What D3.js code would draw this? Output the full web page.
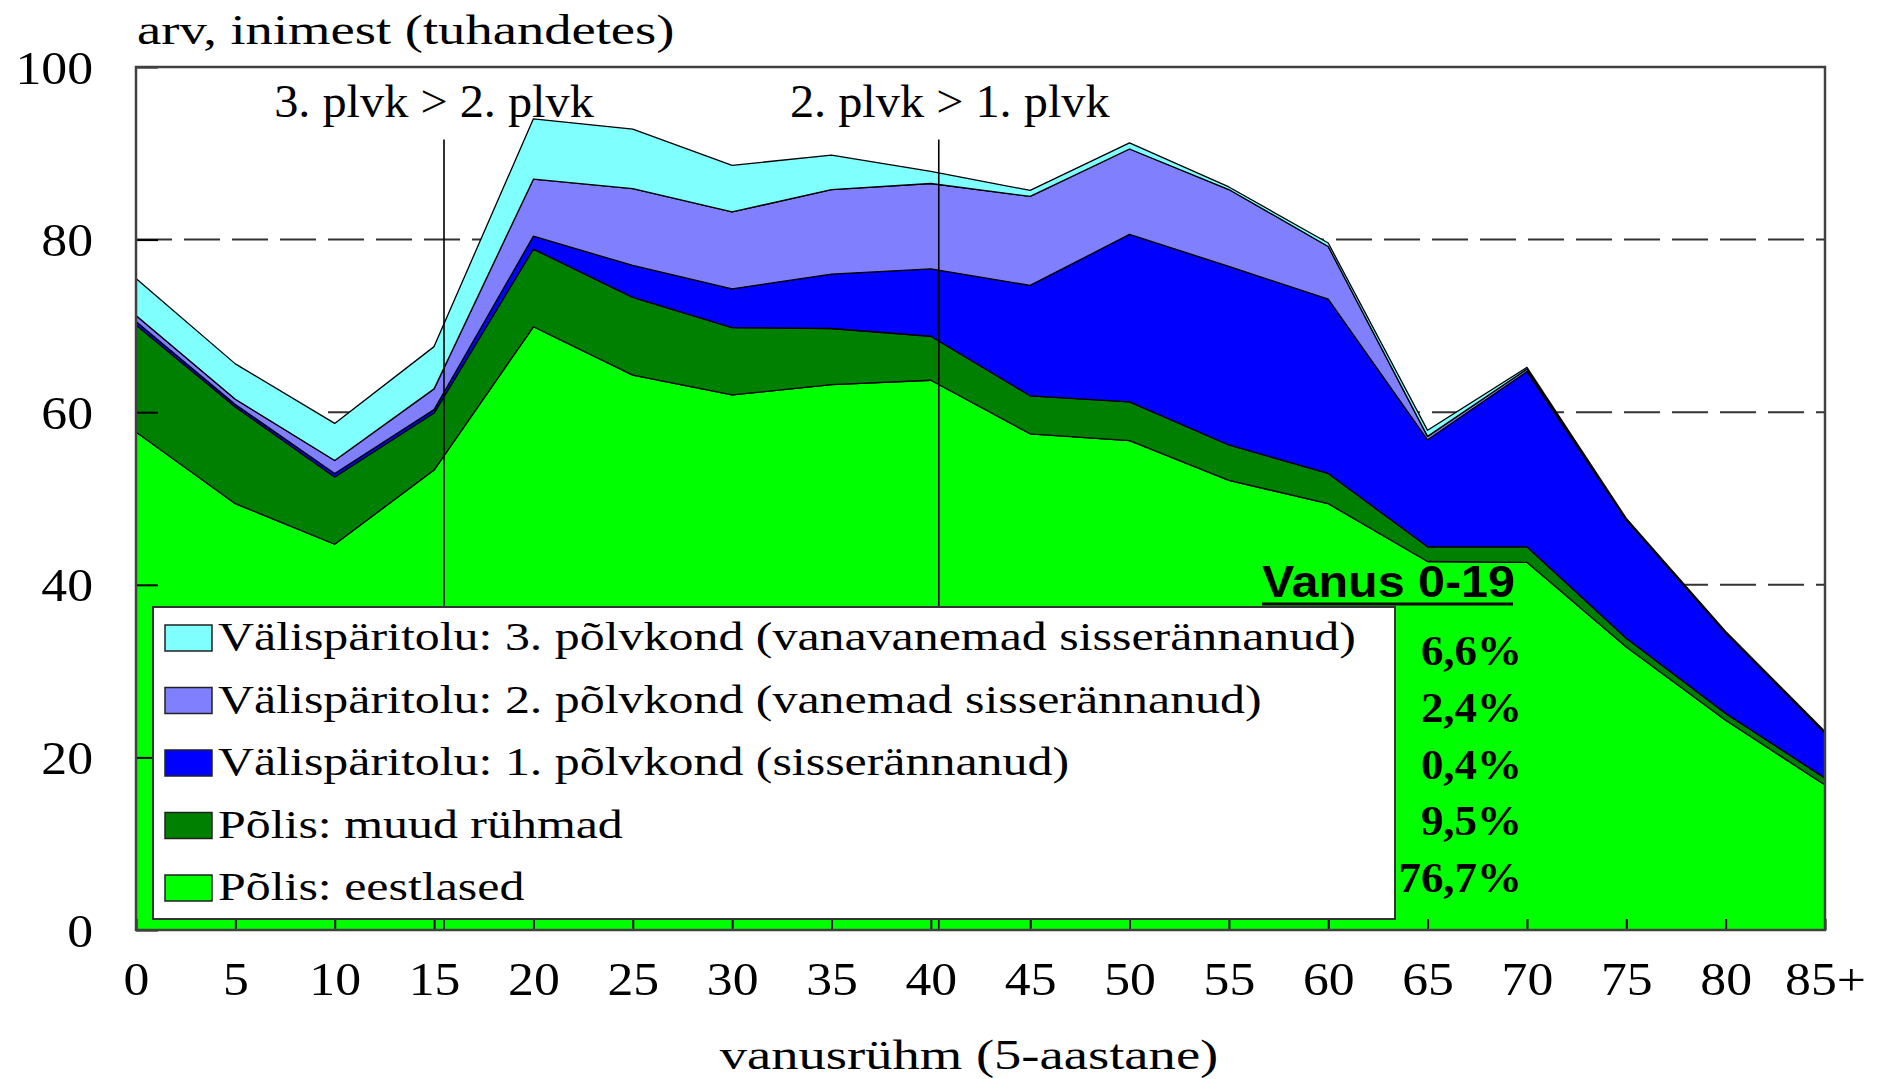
<!DOCTYPE html>
<html>
<head>
<meta charset="utf-8">
<script src="https://cdn.jsdelivr.net/npm/d3@7"></script>
<style>
  html, body { margin: 0; padding: 0; background: #fff; }
  svg { display: block; }
</style>
</head>
<body>
<script>
// Constants
const WIDTH = 1878;
const HEIGHT = 1079;
const PLOT = { left: 136, right: 1825, top: 67, bottom: 930 };
const SERIF = "'Liberation Serif', 'Times New Roman', serif";
const SANS = "'Liberation Sans', Arial, sans-serif";
const TICK_STRETCH = 1.1;

// Data (thousands of people per 5-year age group)
const ages = [0, 5, 10, 15, 20, 25, 30, 35, 40, 45, 50, 55, 60, 65, 70, 75, 80, 85];
const ageLabels = ['0', '5', '10', '15', '20', '25', '30', '35', '40', '45', '50', '55', '60', '65', '70', '75', '80', '85+'];
const eestlased = [57.7, 49.4, 44.7, 53.3, 69.9, 64.3, 62.0, 63.2, 63.7, 57.5, 56.7, 52.1, 49.4, 42.7, 42.6, 32.8, 24.3, 16.8];
const muudRuhmad = [12.4, 11.2, 7.8, 6.6, 9.0, 9.0, 7.8, 6.5, 5.1, 4.4, 4.5, 4.1, 3.5, 1.7, 1.8, 1.0, 0.8, 0.8];
const polvkond1 = [0.4, 0.3, 0.4, 0.4, 1.5, 3.7, 4.5, 6.3, 7.8, 12.8, 19.4, 20.7, 20.2, 12.4, 20.3, 13.7, 9.3, 5.2];
const polvkond2 = [0.7, 0.6, 1.5, 2.4, 6.6, 8.9, 8.9, 9.8, 9.9, 10.3, 9.9, 8.9, 6.1, 0.4, 0.3, 0.1, 0.1, 0.1];
const polvkond3 = [4.3, 4.1, 4.3, 4.9, 7.0, 6.9, 5.4, 4.0, 1.4, 0.7, 0.7, 0.3, 0.4, 0.7, 0.2, 0.1, 0.1, 0.1];

const seriesKeys = ['eestlased', 'muud', 'p1', 'p2', 'p3'];
const seriesNames = [
  'Põlis: eestlased',
  'Põlis: muud rühmad',
  'Välispäritolu: 1. põlvkond (sisserännanud)',
  'Välispäritolu: 2. põlvkond (vanemad sisserännanud)',
  'Välispäritolu: 3. põlvkond (vanavanemad sisserännanud)',
];
const seriesColors = ['#00ff00', '#008000', '#0000ff', '#8080ff', '#80ffff'];
// shares for ages 0-19, same order as the legend (top to bottom)
const youthShares = ['6,6%', '2,4%', '0,4%', '9,5%', '76,7%'];

const yTicks = [0, 20, 40, 60, 80, 100];
const gridValues = [20, 40, 60, 80];
const markerAges = [15.5, 40.4];
const markerTop = 91.6;
const markerLabels = ['3. plvk > 2. plvk', '2. plvk > 1. plvk'];
const markerLabelShift = [-10, 11];

// Prepare data
const rows = ages.map((age, i) => ({
  age,
  eestlased: eestlased[i],
  muud: muudRuhmad[i],
  p1: polvkond1[i],
  p2: polvkond2[i],
  p3: polvkond3[i],
}));
const stacked = d3.stack().keys(seriesKeys)(rows);

// Scales
const xScale = d3.scaleLinear([0, 85], [PLOT.left, PLOT.right]);
const yScale = d3.scaleLinear([0, 100], [PLOT.bottom, PLOT.top]);

const svg = d3.select('body')
  .append('svg')
  .attr('width', WIDTH)
  .attr('height', HEIGHT);

svg.append('rect')
  .attr('width', WIDTH)
  .attr('height', HEIGHT)
  .attr('fill', '#fff');

// Dashed grid lines
svg.append('g')
  .selectAll('line')
  .data(gridValues)
  .join('line')
  .attr('x1', PLOT.left)
  .attr('x2', PLOT.right)
  .attr('y1', (d) => yScale(d))
  .attr('y2', (d) => yScale(d))
  .attr('stroke', '#333')
  .attr('stroke-width', 2)
  .attr('stroke-dasharray', '36,12');

// Stacked areas
const area = d3.area()
  .x((d) => xScale(d.data.age))
  .y0((d) => yScale(d[0]))
  .y1((d) => yScale(d[1]));

svg.append('g')
  .selectAll('path')
  .data(stacked)
  .join('path')
  .attr('d', area)
  .attr('fill', (d, i) => seriesColors[i])
  .attr('stroke', '#000')
  .attr('stroke-width', 1.3)
  .attr('stroke-linejoin', 'round');

// Generation boundary markers
svg.append('g')
  .selectAll('line')
  .data(markerAges)
  .join('line')
  .attr('x1', (d) => xScale(d))
  .attr('x2', (d) => xScale(d))
  .attr('y1', yScale(markerTop))
  .attr('y2', yScale(0))
  .attr('stroke', '#000')
  .attr('stroke-width', 1.6);

svg.append('g')
  .selectAll('text')
  .data(markerLabels)
  .join('text')
  .attr('transform', (d, i) =>
    `translate(${xScale(markerAges[i]) + markerLabelShift[i]},117) scale(1.05,1)`)
  .attr('text-anchor', 'middle')
  .attr('font-family', SERIF)
  .attr('font-size', 46)
  .attr('fill', '#000')
  .text((d) => d);

// Axes
const yAxis = d3.axisLeft(yScale)
  .tickValues(yTicks)
  .tickSizeInner(-22)
  .tickSizeOuter(0)
  .tickPadding(43);

const yAxisG = svg.append('g')
  .attr('transform', `translate(${PLOT.left},0)`)
  .call(yAxis);
yAxisG.select('.domain').remove();
yAxisG.selectAll('line').attr('stroke', '#000').attr('stroke-width', 2);
yAxisG.selectAll('text')
  .attr('x', -43 / TICK_STRETCH)
  .attr('dy', 16)
  .attr('transform', `scale(${TICK_STRETCH},1)`)
  .attr('font-family', SERIF)
  .attr('font-size', 47)
  .attr('fill', '#000');

const xAxis = d3.axisBottom(xScale)
  .tickValues(ages)
  .tickFormat((d, i) => ageLabels[i])
  .tickSizeInner(-11)
  .tickSizeOuter(0);

const xAxisG = svg.append('g')
  .attr('transform', `translate(0,${PLOT.bottom})`)
  .call(xAxis);
xAxisG.select('.domain').remove();
xAxisG.selectAll('line').attr('stroke', '#000').attr('stroke-width', 2);
xAxisG.selectAll('text')
  .attr('y', 65)
  .attr('dy', 0)
  .attr('transform', `scale(${TICK_STRETCH},1)`)
  .attr('font-family', SERIF)
  .attr('font-size', 47)
  .attr('fill', '#000');

// Plot frame
svg.append('rect')
  .attr('x', PLOT.left)
  .attr('y', PLOT.top)
  .attr('width', PLOT.right - PLOT.left)
  .attr('height', PLOT.bottom - PLOT.top)
  .attr('fill', 'none')
  .attr('stroke', '#404040')
  .attr('stroke-width', 2.5);

// Axis titles
svg.append('text')
  .attr('transform', 'translate(137,44) scale(1.3,1)')
  .attr('font-family', SERIF)
  .attr('font-size', 42)
  .attr('fill', '#000')
  .text('arv, inimest (tuhandetes)');

svg.append('text')
  .attr('transform', 'translate(969,1069) scale(1.3,1)')
  .attr('text-anchor', 'middle')
  .attr('font-family', SERIF)
  .attr('font-size', 42)
  .attr('fill', '#000')
  .text('vanusrühm (5-aastane)');

// Legend
const legend = svg.append('g');
legend.append('rect')
  .attr('x', 153)
  .attr('y', 607)
  .attr('width', 1242)
  .attr('height', 312)
  .attr('fill', '#fff')
  .attr('stroke', '#333')
  .attr('stroke-width', 2);

const legendOrder = d3.range(seriesKeys.length).reverse();
const items = legend.selectAll('g.item')
  .data(legendOrder)
  .join('g')
  .attr('class', 'item')
  .attr('transform', (d, i) => `translate(165,${625 + i * 62.5})`);

items.append('rect')
  .attr('width', 47)
  .attr('height', 26)
  .attr('fill', (d) => seriesColors[d])
  .attr('stroke', '#222')
  .attr('stroke-width', 1.5);

items.append('text')
  .attr('transform', 'translate(53,25) scale(1.28,1)')
  .attr('font-family', SERIF)
  .attr('font-size', 39)
  .attr('fill', '#000')
  .text((d) => seriesNames[d]);

// Shares for ages 0-19
svg.append('text')
  .attr('transform', 'translate(1262,597) scale(1.1,1)')
  .attr('font-family', SANS)
  .attr('font-weight', 'bold')
  .attr('font-size', 44)
  .attr('fill', '#000')
  .text('Vanus 0-19');

svg.append('line')
  .attr('x1', 1262)
  .attr('x2', 1513)
  .attr('y1', 604)
  .attr('y2', 604)
  .attr('stroke', '#000')
  .attr('stroke-width', 3);

svg.append('g')
  .selectAll('text')
  .data(youthShares)
  .join('text')
  .attr('transform', (d, i) => `translate(1522,${665 + i * 56.8}) scale(1.07,1)`)
  .attr('text-anchor', 'end')
  .attr('font-family', SERIF)
  .attr('font-weight', 'bold')
  .attr('font-size', 42)
  .attr('fill', '#000')
  .text((d) => d);
</script>
</body>
</html>
